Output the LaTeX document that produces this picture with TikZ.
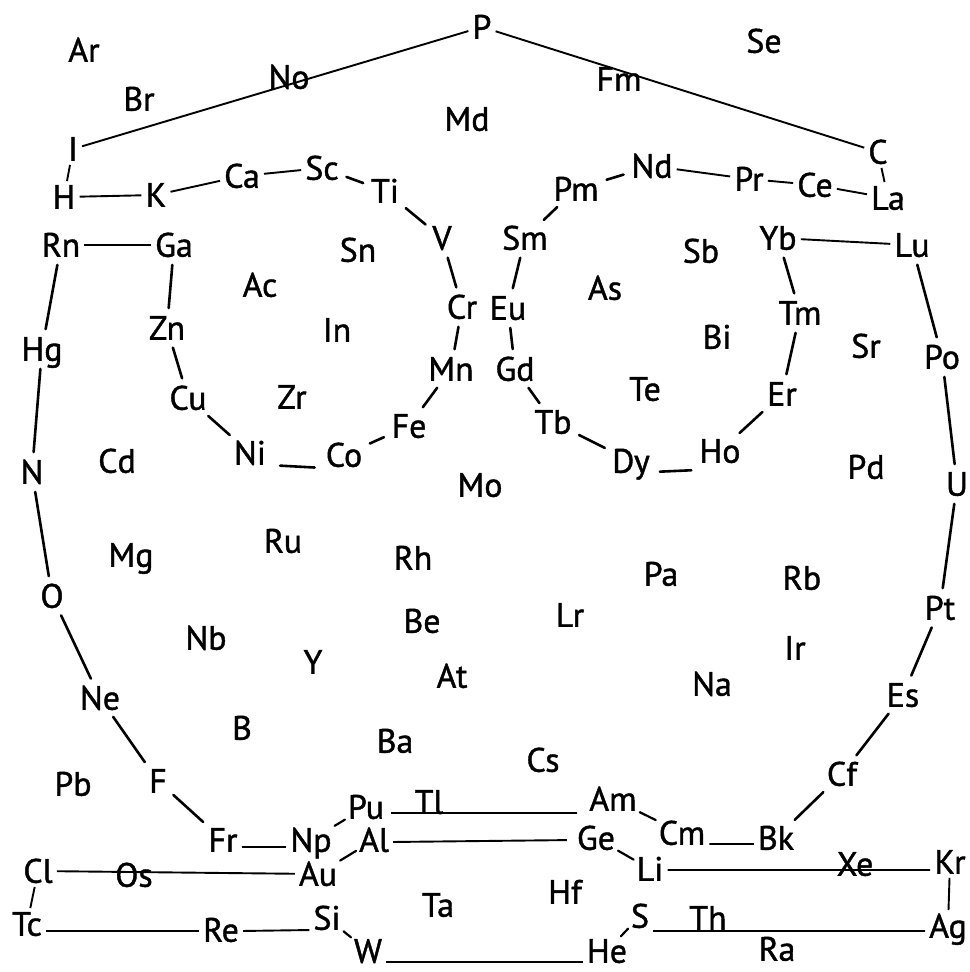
\documentclass[tikz,border=0pt]{standalone}
\usepackage{fontspec}
\setmainfont{PT Sans}
\newfontfamily\elfont{PT Sans}[FakeBold=1.2]
\begin{document}
\begin{tikzpicture}[x=1bp,y=-1bp,
  el/.style={font=\elfont\fontsize{34}{38}\selectfont, inner sep=2bp, text height=23.5bp, text depth=0bp},
  ln/.style={line width=1.9bp, shorten <=2bp, shorten >=2bp},
  seg/.style={line width=2.6bp, shorten <=6bp, shorten >=6bp, line cap=round},
  tiny/.style={line width=2.2bp, shorten <=1bp, shorten >=1bp, line cap=round}]
\useasboundingbox (0,0) rectangle (970,972);
\fill[white] (0,0) rectangle (970,972);
% nodes
\node[el] (Ar) at (84,50) {Ar};
\node[el] (Se) at (764,41) {Se};
\node[el] (P) at (482,27) {P};
\node[el] (No) at (289,77) {No};
\node[el] (Br) at (139,99) {Br};
\node[el] (Fm) at (619,79) {Fm};
\node[el] (Md) at (467,119) {Md};
\node[el] (I) at (73,149) {I};
\node[el] (C) at (878,152) {C};
\node[el] (H) at (64,197) {H};
\node[el] (K) at (156,195) {K};
\node[el] (Ca) at (242,176) {Ca};
\node[el] (Sc) at (322,168) {Sc};
\node[el] (Ti) at (385,191) {Ti};
\node[el] (Pm) at (576,189) {Pm};
\node[el] (Nd) at (652,166) {Nd};
\node[el] (Pr) at (749,179) {Pr};
\node[el] (Ce) at (815,185) {Ce};
\node[el] (La) at (888,198) {La};
\node[el] (Rn) at (61,245) {Rn};
\node[el] (Ga) at (174,245) {Ga};
\node[el] (Sn) at (358,250) {Sn};
\node[el] (V) at (442,238) {V};
\node[el] (Sm) at (525,238) {Sm};
\node[el] (Sb) at (701,251) {Sb};
\node[el] (Yb) at (778,238) {Yb};
\node[el] (Lu) at (912,245) {Lu};
\node[el] (Ac) at (260,285) {Ac};
\node[el] (Cr) at (462,307) {Cr};
\node[el] (Eu) at (508,308) {Eu};
\node[el] (As) at (605,288) {As};
\node[el] (Tm) at (800,313) {Tm};
\node[el] (Hg) at (42,349) {Hg};
\node[el] (Zn) at (167,328) {Zn};
\node[el] (In) at (337,330) {In};
\node[el] (Bi) at (717,337) {Bi};
\node[el] (Sr) at (866,346) {Sr};
\node[el] (Po) at (942,357) {Po};
\node[el] (Mn) at (451,369) {Mn};
\node[el] (Gd) at (515,369) {Gd};
\node[el] (Te) at (645,389) {Te};
\node[el] (Er) at (782,394) {Er};
\node[el] (Cu) at (188,398) {Cu};
\node[el] (Zr) at (292,397) {Zr};
\node[el] (Fe) at (409,426) {Fe};
\node[el] (Tb) at (553,422) {Tb};
\node[el] (Ni) at (250,453) {Ni};
\node[el] (Co) at (344,455) {Co};
\node[el] (Ho) at (720,451) {Ho};
\node[el] (Dy) at (631,461) {Dy};
\node[el] (N) at (32,472) {N};
\node[el] (Cd) at (117,461) {Cd};
\node[el] (Mo) at (480,485) {Mo};
\node[el] (Pd) at (866,467) {Pd};
\node[el] (U) at (957,484) {U};
\node[el] (Ru) at (283,541) {Ru};
\node[el] (Mg) at (131,555) {Mg};
\node[el] (Rh) at (413,558) {Rh};
\node[el] (Pa) at (661,574) {Pa};
\node[el] (Rb) at (802,578) {Rb};
\node[el] (O) at (52,596) {O};
\node[el] (Pt) at (940,608) {Pt};
\node[el] (Be) at (422,621) {Be};
\node[el] (Lr) at (570,615) {Lr};
\node[el] (Nb) at (206,638) {Nb};
\node[el] (Ir) at (795,648) {Ir};
\node[el] (Y) at (313,662) {Y};
\node[el] (At) at (452,676) {At};
\node[el] (Na) at (712,684) {Na};
\node[el] (Ne) at (100,698) {Ne};
\node[el] (Es) at (903,695) {Es};
\node[el] (B) at (242,728) {B};
\node[el] (Ba) at (395,741) {Ba};
\node[el] (Cs) at (543,760) {Cs};
\node[el] (Pb) at (73,784) {Pb};
\node[el] (F) at (158,781) {F};
\node[el] (Cf) at (842,774) {Cf};
\node[el] (Pu) at (366,807) {Pu};
\node[el] (Tl) at (429,802) {Tl};
\node[el] (Am) at (613,799) {Am};
\node[el] (Fr) at (223,840) {Fr};
\node[el] (Np) at (311,840) {Np};
\node[el] (Al) at (374,840) {Al};
\node[el] (Ge) at (596,838) {Ge};
\node[el] (Cm) at (682,833) {Cm};
\node[el] (Bk) at (776,838) {Bk};
\node[el] (Cl) at (38,871) {Cl};
\node[el] (Os) at (134,875) {Os};
\node[el] (Au) at (318,874) {Au};
\node[el] (Li) at (650,869) {Li};
\node[el] (Xe) at (855,864) {Xe};
\node[el] (Kr) at (950,862) {Kr};
\node[el] (Ta) at (438,905) {Ta};
\node[el] (Hf) at (565,892) {Hf};
\node[el] (Tc) at (27,924) {Tc};
\node[el] (Re) at (221,930) {Re};
\node[el] (Si) at (327,918) {Si};
\node[el] (S) at (640,916) {S};
\node[el] (Th) at (708,918) {Th};
\node[el] (Ag) at (948,926) {Ag};
\node[el] (W) at (368,951) {W};
\node[el] (He) at (607,951) {He};
\node[el] (Ra) at (777,949) {Ra};
% long lines
\draw[ln] (I) -- (P);
\draw[ln] (P) -- (C);
\draw[ln] (I) -- (H);
\draw[ln] (H) -- (K);
\draw[ln] (K) -- (Ca);
\draw[ln] (Ca) -- (Sc);
\draw[ln] (Rn) -- (Ga);
\draw[ln] (Nd) -- (Pr);
\draw[ln] (Pr) -- (Ce);
\draw[ln] (Ce) -- (La);
\draw[ln] (C) -- (La);
\draw[ln] (Yb) -- (Lu);
\draw[ln] ([yshift=-7bp]Fr.east) -- ([yshift=-7bp]Np.west);
\draw[ln] ([yshift=-11bp]Cm.east) -- ([yshift=-6bp]Bk.west);
\draw[ln,shorten <=5bp,shorten >=10bp] ([yshift=-6bp]Pu.east) -- ([yshift=-14bp]Am.west);
\draw[ln,shorten >=8bp] ([yshift=-2bp]Al.east) -- ([yshift=-2bp]Ge.west);
\draw[ln] (Cl) -- (Au);
\draw[ln] ([yshift=-7bp]Tc.east) -- ([yshift=-1bp]Re.west);
\draw[ln] ([yshift=-1bp]Re.east) -- ([yshift=-12bp]Si.west);
\draw[ln] ([yshift=-11bp]W.east) -- ([yshift=-11bp]He.west);
\draw[ln] ([yshift=-15bp]S.east) -- ([yshift=-5bp]Ag.west);
\draw[ln] ([yshift=-1bp]Li.east) -- ([yshift=-8bp]Kr.west);
\draw[ln] (Cl) -- (Tc);
\draw[ln] (Kr) -- (Ag);
% arc strokes, left circle
\draw[seg] (Sc) -- (Ti);
\draw[seg] (Ti) -- (V);
\draw[seg] (V) -- (Cr);
\draw[seg] (Cr) -- (Mn);
\draw[seg] (Mn) -- (Fe);
\draw[seg] (Fe) -- (Co);
\draw[seg,shorten <=12bp,shorten >=9bp] ([yshift=-12bp]Ni.east) -- ([yshift=-13bp]Co.west);
\draw[seg] (Ni) -- (Cu);
\draw[seg] (Cu) -- (Zn);
\draw[seg] (Zn) -- (Ga);
% right circle
\draw[seg] (Pm) -- (Nd);
\draw[seg] (Sm) -- (Pm);
\draw[seg] (Eu) -- (Sm);
\draw[seg] (Gd) -- (Eu);
\draw[seg] (Tb) -- (Gd);
\draw[seg] (Dy) -- (Tb);
\draw[seg,shorten <=8bp,shorten >=6bp] ([yshift=-11bp]Dy.east) -- ([yshift=-19bp]Ho.west);
\draw[seg] (Ho) -- (Er);
\draw[seg] (Er) -- (Tm);
\draw[seg] (Tm) -- (Yb);
% outer ring
\draw[seg] (Rn) -- (Hg);
\draw[seg] (Hg) -- (N);
\draw[seg] (N) -- (O);
\draw[seg] (O) -- (Ne);
\draw[seg] (Ne) -- (F);
\draw[seg] (F) -- (Fr);
\draw[tiny] (Np) -- (Pu);
\draw[tiny] (Au) -- (Al);
\draw[tiny] (Si) -- (W);
\draw[tiny] (He) -- (S);
\draw[tiny] (Ge) -- (Li);
\draw[tiny] (Am) -- (Cm);
\draw[seg] (Bk) -- (Cf);
\draw[seg] (Cf) -- (Es);
\draw[seg] (Es) -- (Pt);
\draw[seg] (Pt) -- (U);
\draw[seg] (U) -- (Po);
\draw[seg] (Po) -- (Lu);
\end{tikzpicture}
\end{document}
